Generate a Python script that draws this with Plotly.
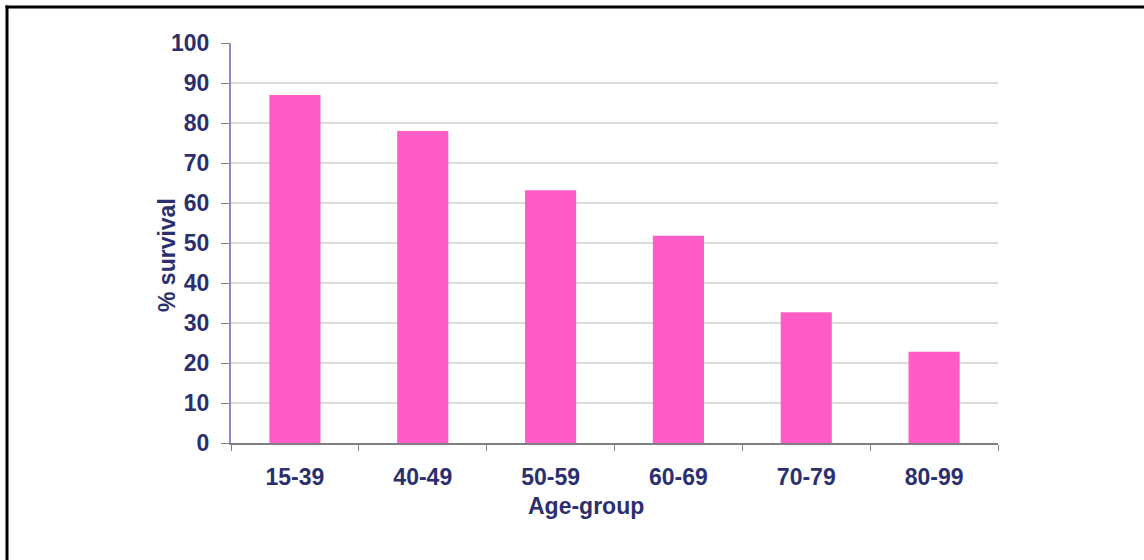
import plotly.graph_objects as go

age_groups = ["15-39", "40-49", "50-59", "60-69", "70-79", "80-99"]
survival = [87, 78, 63.2, 51.8, 32.7, 22.8]
y_ticks = [0, 10, 20, 30, 40, 50, 60, 70, 80, 90, 100]

TEXT = "#2B2F6E"
FONT = "Liberation Sans, Arial, sans-serif"

fig = go.Figure(go.Bar(
    x=age_groups, y=survival,
    marker=dict(color="#FF5CC8", line=dict(width=0)),
))

L, R, T, B = 231, 146, 43, 117
W, H = 1144, 560
pw, ph = W - L - R, H - T - B


def px_x(px):
    return (px - L) / pw


def px_y(py):
    return (H - B - py) / ph


fig.update_layout(
    width=W, height=H,
    margin=dict(l=L, r=R, t=T, b=B, pad=0),
    paper_bgcolor="white", plot_bgcolor="white",
    bargap=0.6,
    showlegend=False,
    font=dict(family=FONT, color=TEXT),
    xaxis=dict(
        type="category",
        showline=True, linecolor="#7F7F7F", linewidth=1.5,
        ticks="outside", tickson="boundaries", ticklen=6, tickcolor="#7F7F7F",
        tickfont=dict(size=23, family=FONT, color=TEXT, weight="bold"),
        ticklabelstandoff=13,
        showgrid=False,
    ),
    yaxis=dict(
        range=[0, 100], tickvals=y_ticks,
        showline=True, linecolor="#8C8CC8", linewidth=2,
        ticks="outside", ticklen=8, tickcolor="#7F7F7F",
        tickfont=dict(size=23, family=FONT, color=TEXT, weight="bold"),
        ticklabelstandoff=7,
        showgrid=True, gridcolor="#DCDCDC", gridwidth=1.5,
        zeroline=False,
    ),
    annotations=[
        dict(text="<b>% survival</b>", xref="paper", yref="paper",
             x=px_x(167), y=px_y(255), xanchor="center", yanchor="middle",
             textangle=-90, showarrow=False,
             font=dict(size=23, family=FONT, color=TEXT)),
        dict(text="<b>Age-group</b>", xref="paper", yref="paper",
             x=px_x(586), y=px_y(506), xanchor="center", yanchor="middle",
             showarrow=False,
             font=dict(size=23, family=FONT, color=TEXT)),
    ],
    shapes=[
        dict(type="line", xref="paper", yref="paper",
             x0=px_x(7), x1=px_x(7), y0=px_y(5.5), y1=px_y(600),
             line=dict(color="black", width=3)),
        dict(type="line", xref="paper", yref="paper",
             x0=px_x(5.5), x1=px_x(1200), y0=px_y(7), y1=px_y(7),
             line=dict(color="black", width=3)),
    ],
)

fig.write_html("out.html")
